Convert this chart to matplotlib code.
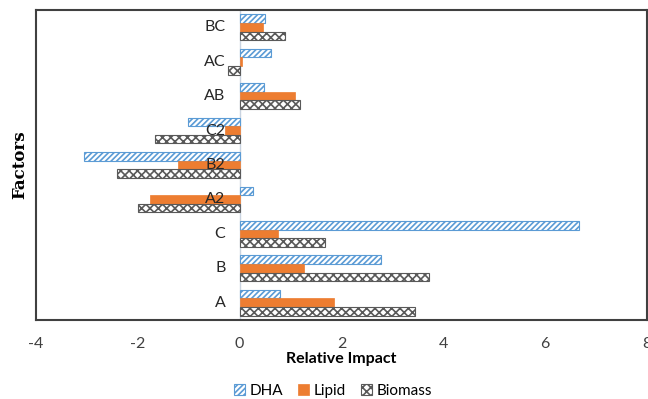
import numpy as np
import matplotlib.pyplot as plt

# Factor effects on each response
factors = ['A', 'B', 'C', 'A2', 'B2', 'C2', 'AB', 'AC', 'BC']
dha = [0.80, 2.77, 6.67, 0.27, -3.06, -1.02, 0.47, 0.62, 0.49]
lipid = [1.86, 1.26, 0.76, -1.76, -1.22, -0.28, 1.08, 0.04, 0.45]
biomass = [3.45, 3.71, 1.67, -2.00, -2.40, -1.67, 1.19, -0.22, 0.90]

plt.rcParams['font.family'] = ['Lato', 'DejaVu Sans']
plt.rcParams['hatch.linewidth'] = 1.2
plt.rcParams['axes.unicode_minus'] = False

fig = plt.figure(figsize=(6.48, 3.99), dpi=100)
ax = fig.add_axes([36 / 648, 1 - 320 / 399, 611 / 648, 310 / 399])

y = np.arange(len(factors))
h = 0.25
ax.barh(y + h, dha, height=h, color='white', edgecolor='#5B9BD5',
        hatch='//////', linewidth=0.8, label='DHA')
ax.barh(y, lipid, height=h, color='#ED7D31', edgecolor='#ED7D31',
        linewidth=0.5, label='Lipid')
ax.barh(y - h, biomass, height=h, color='white', edgecolor='#595959',
        hatch='xxxx', linewidth=0.8, label='Biomass')

ax.axvline(0, color='#C9D3E0', linewidth=1, zorder=0)

ax.set_xlim(-4, 8)
ax.set_ylim(-0.5, len(factors) - 0.5)
ax.set_xticks(range(-4, 9, 2))
ax.set_yticks([])
ax.tick_params(axis='x', length=0, pad=12, labelsize=11.5, colors='#404040')

# category labels sit next to the zero line
for yi, name in zip(y, factors):
    ax.text(-0.28, yi, name, ha='right', va='center', fontsize=11.5, color='#262626')

for s in ax.spines.values():
    s.set_color('#404040')
    s.set_linewidth(1.5)

ax.set_xlabel('Relative Impact', fontsize=11.5, fontweight='bold', labelpad=1)
fig.text(20 / 648, 1 - 165 / 399, 'Factors', rotation=90, ha='center', va='center',
         fontsize=12, fontweight='bold', family='DejaVu Serif')

fig.legend(loc='center', bbox_to_anchor=(333 / 648, 1 - 391 / 399), ncol=3,
           frameon=False, fontsize=11, handlelength=0.7, handleheight=0.7,
           handletextpad=0.3, columnspacing=1.0)

fig.savefig('out.png', dpi=100)
